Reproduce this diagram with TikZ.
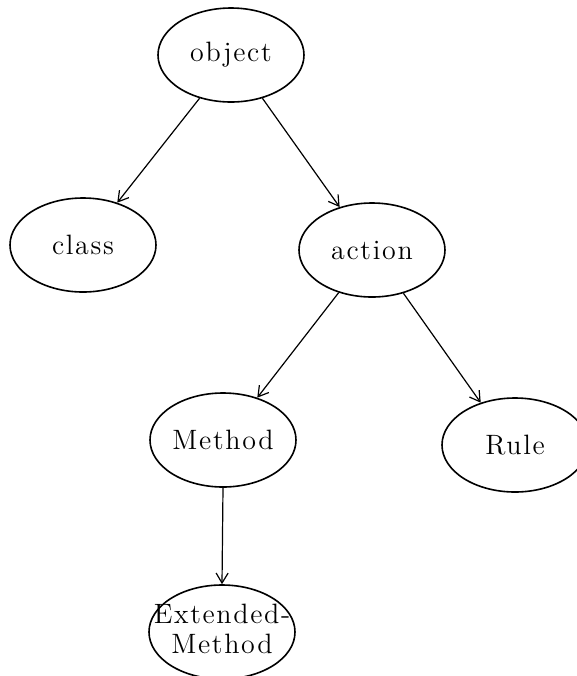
\documentclass[tikz,border=0pt]{standalone}
\usepackage{fontspec}
\setmainfont{Latin Modern Roman}[LetterSpace=6]
\usetikzlibrary{shapes.geometric,arrows.meta}
\begin{document}
\begin{tikzpicture}[x=0.5pt,y=-0.5pt,>={Straight Barb[length=5pt,width=6pt]},
    kind/.style={ellipse,draw,line width=0.8pt,minimum width=73pt,minimum height=47pt,
      inner sep=0pt,font=\fontsize{14}{15}\selectfont}]
    \useasboundingbox (0,0) rectangle (577,676);
    % Hierarchy of kinds
    \node[kind] (object) at (231,55) {object};
    \node[kind] (class) at (83,245) {class};
    \node[kind] (action) at (372,250) {action};
    \node[kind] (method) at (223,440) {Method};
    \node[kind] (rule) at (515,445) {Rule};
    \node[kind] (extmethod) at (222,632)
      {\makebox[0pt]{\begin{tabular}{@{}c@{}}Extended-\\Method\end{tabular}}};
    % Links
    \foreach \from/\to in {object.234/class.51, object.306/action.127,
        action.232/method.51, action.306/rule.129, method.270/extmethod.90}
      \draw[->,line width=0.6pt] (\from) -- (\to);
\end{tikzpicture}
\end{document}
